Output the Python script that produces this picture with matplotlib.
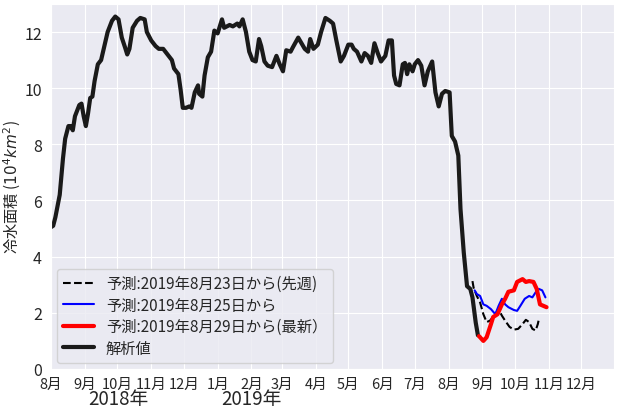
import pandas as pd
import matplotlib
matplotlib.use("Agg")
import matplotlib.pyplot as plt
import matplotlib.dates as mdates
import matplotlib.transforms as mtransforms
import seaborn as sns

# ----------------------
# Data (days counted from 2018-08-01, area in 10^4 km^2)
# ----------------------
START = pd.Timestamp("2018-08-01")

analysis_days = [0, 2, 4, 5, 8, 11, 13, 16, 18, 20, 22, 26, 28, 30, 32, 34, 36, 38, 40, 43,
                 46, 49, 52, 56, 59, 62, 65, 68, 70, 72, 75, 79, 82, 86, 88, 92, 96, 99, 103, 107,
                 111, 113, 117, 119, 121, 124, 127, 129, 132, 135, 136, 139, 141, 144, 147, 150, 153, 157, 159, 164,
                 167, 171, 173, 176, 179, 182, 185, 188, 191, 193, 196, 199, 203, 207, 210, 213, 216, 220, 222, 227,
                 230, 233, 236, 238, 241, 245, 248, 252, 256, 259, 262, 266, 269, 273, 276, 278, 281, 285, 288, 291,
                 294, 297, 300, 303, 307, 310, 313, 315, 317, 320, 323, 325, 327, 329, 332, 334, 337, 340, 343, 346,
                 350, 353, 356, 359, 362, 366, 368, 371, 374, 376, 379, 382, 385, 387, 390, 392]
analysis_vals = [5.05, 5.1, 5.4, 5.6, 6.2, 7.5, 8.2, 8.65, 8.65, 8.5, 9.0, 9.4, 9.45, 9.0, 8.65, 9.1, 9.65, 9.7, 10.25, 10.85,
                 11.0, 11.5, 12.0, 12.4, 12.55, 12.45, 11.8, 11.45, 11.2, 11.4, 12.15, 12.4, 12.5, 12.45, 12.0, 11.7, 11.5, 11.4, 11.4, 11.2,
                 11.0, 10.7, 10.5, 9.95, 9.3, 9.3, 9.35, 9.3, 9.85, 10.1, 9.8, 9.7, 10.45, 11.1, 11.3, 12.05, 11.95, 12.45, 12.15, 12.25,
                 12.2, 12.3, 12.2, 12.45, 12.0, 11.3, 11.0, 10.95, 11.75, 11.5, 10.95, 10.8, 10.75, 11.15, 10.85, 10.6, 11.35, 11.3, 11.45, 11.8,
                 11.6, 11.4, 11.3, 11.75, 11.4, 11.55, 12.0, 12.5, 12.4, 12.3, 11.7, 10.95, 11.15, 11.55, 11.55, 11.4, 11.3, 10.95, 11.25, 11.15,
                 10.9, 11.6, 11.25, 10.95, 11.15, 11.7, 11.7, 10.45, 10.15, 10.1, 10.85, 10.9, 10.5, 10.85, 10.6, 10.85, 11.0, 10.8, 10.1, 10.6,
                 10.95, 9.85, 9.35, 9.8, 9.9, 9.85, 8.3, 8.1, 7.6, 5.7, 4.15, 2.95, 2.85, 2.55, 1.65, 1.2]

fc0823_days = [387, 388, 391, 394, 397, 400, 403, 407, 411, 414, 417, 421, 425, 429, 433, 436, 439, 442, 445, 447, 448]
fc0823_vals = [3.13, 2.9, 2.6, 2.37, 1.95, 1.67, 1.72, 1.9, 2.13, 1.9, 1.72, 1.5, 1.4, 1.43, 1.6, 1.75, 1.67, 1.43, 1.37, 1.6, 1.78]

fc0825_days = [389, 391, 394, 397, 400, 404, 408, 411, 414, 417, 420, 425, 428, 431, 435, 439, 442, 445, 448, 451, 454]
fc0825_vals = [2.8, 2.67, 2.6, 2.3, 2.25, 2.13, 1.95, 2.25, 2.5, 2.3, 2.2, 2.1, 2.07, 2.25, 2.5, 2.6, 2.55, 2.73, 2.85, 2.8, 2.55]

fc0829_days = [393, 397, 400, 404, 406, 410, 414, 417, 420, 425, 428, 433, 436, 439, 443, 446, 449, 452, 455]
fc0829_vals = [1.17, 1.0, 1.13, 1.6, 1.85, 1.95, 2.3, 2.5, 2.75, 2.8, 3.1, 3.2, 3.1, 3.13, 3.1, 2.85, 2.3, 2.25, 2.2]

labels = ["予測:2019年8月23日から(先週)", "予測:2019年8月25日から",
          "予測:2019年8月29日から(最新）", "解析値"]
year_labels = ["2018年", "2019年"]
year_label_dates = ["2018-10-02", "2019-02-01"]


def to_dates(days):
    return START + pd.to_timedelta(days, unit="D")


# ----------------------
# Plotting
# ----------------------
sns.set_style("darkgrid")
plt.rcParams["font.family"] = ["Noto Sans CJK JP", "DejaVu Sans"]

fig, ax = plt.subplots(figsize=(6.19, 4.10), dpi=100)
fig.subplots_adjust(left=0.0824, right=0.992, top=0.988, bottom=0.0976)

l1, = ax.plot(to_dates(fc0823_days), fc0823_vals, "--", color="black", lw=1.5, zorder=3)
l2, = ax.plot(to_dates(fc0825_days), fc0825_vals, color="blue", lw=1.5, zorder=3)
l3, = ax.plot(to_dates(fc0829_days), fc0829_vals, color="red", lw=3, zorder=3)
l4, = ax.plot(to_dates(analysis_days), analysis_vals, color="#1a1a1a", lw=3, zorder=2)

ax.set_xlim(pd.Timestamp("2018-08-01"), pd.Timestamp("2019-12-31"))
ax.set_ylim(0, 13)
ax.xaxis.set_major_locator(mdates.MonthLocator())
ax.xaxis.set_major_formatter(plt.FuncFormatter(lambda v, p: f"{mdates.num2date(v).month}月"))
ax.tick_params(axis="x", labelsize=10.5, pad=2)
ax.tick_params(axis="y", labelsize=11.5, pad=3)
ax.set_ylabel("冷水面積 ($10^4km^2$)", fontsize=11, labelpad=1)

# second row of the date axis: year labels
trans = mtransforms.blended_transform_factory(ax.transData, ax.transAxes)
for txt, d in zip(year_labels, year_label_dates):
    ax.text(pd.Timestamp(d), -0.082, txt, transform=trans, ha="center", va="center", fontsize=13.5)

ax.legend([l1, l2, l3, l4], labels, loc="lower left", fontsize=11,
          frameon=True, labelspacing=0.3, borderaxespad=0.4)

fig.savefig("out.png", dpi=100)
